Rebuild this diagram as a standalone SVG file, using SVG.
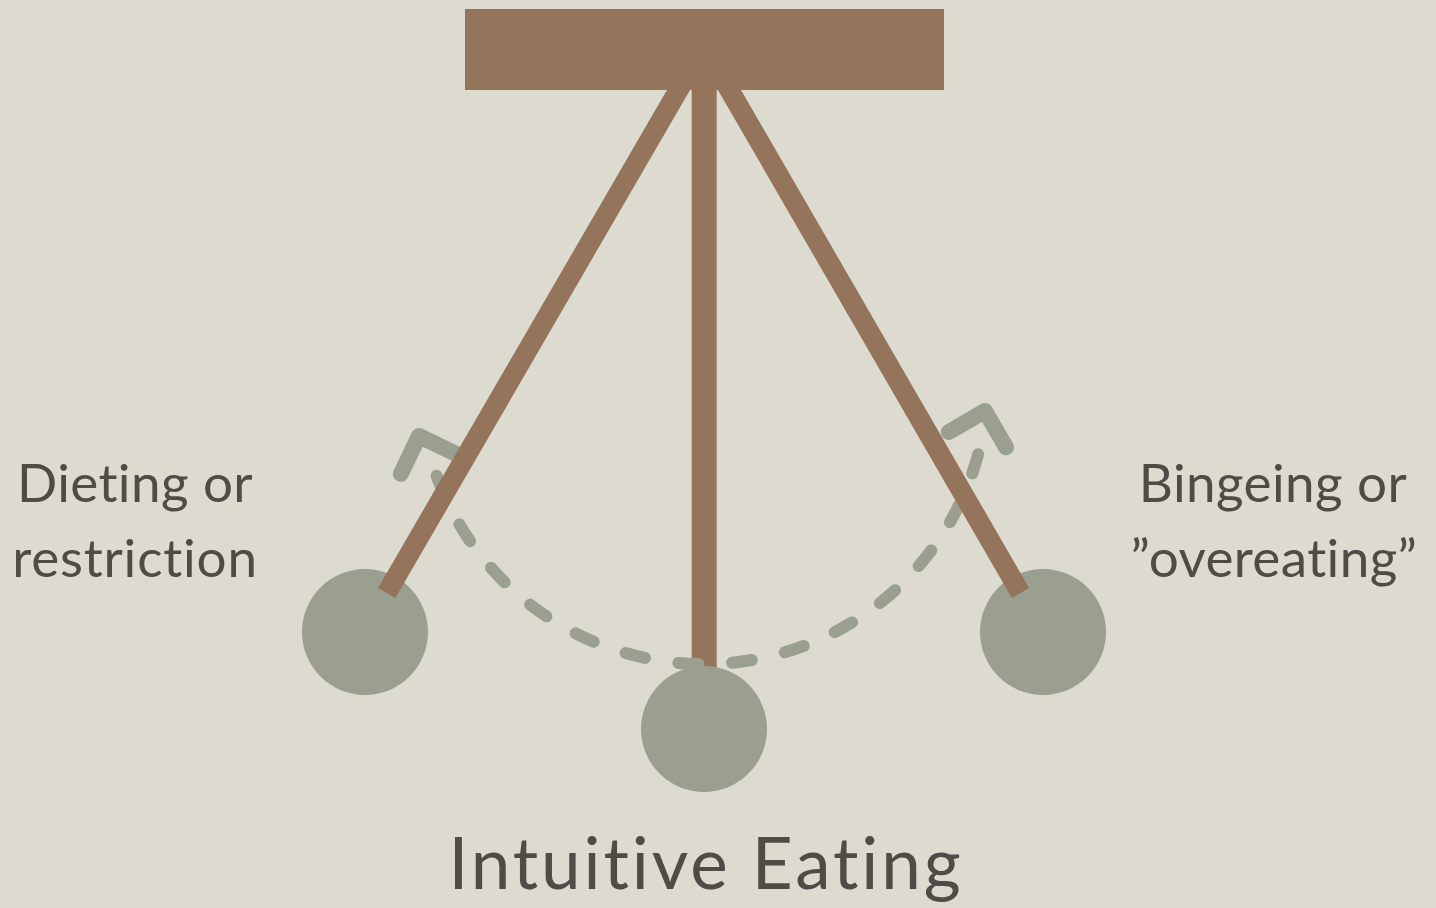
<svg xmlns="http://www.w3.org/2000/svg" width="1436" height="908" viewBox="0 0 1436 908">
  <style>
    .rod { stroke: #94745b; stroke-linecap: butt; fill: none; }
    .ball { fill: #9a9f90; }
    .arc { fill: none; stroke: #9a9f90; stroke-width: 12; stroke-linecap: round; stroke-dasharray: 20 33.8; }
    .chev { fill: none; stroke: #9a9f90; stroke-width: 16; stroke-linecap: round; stroke-linejoin: round; }
    .lbl { font-family: Lato, "Liberation Sans", sans-serif; fill: #504b46; text-anchor: middle; font-variant-ligatures: none; font-feature-settings: "liga" 0; }
    .side { font-size: 53px; letter-spacing: 0.4px; }
    .big { font-size: 71px; letter-spacing: 2.9px; }
  </style>
  <rect width="1436" height="908" fill="#dddbd0"/>

  <g id="center-rod">
    <line class="rod" x1="704.2" y1="85" x2="704.2" y2="680" stroke-width="25"/>
  </g>

  <g id="connectors">
    <path class="arc" d="M 436.6 475.7 A 284 284 0 0 0 978.5 453.0"/>
    <polyline class="chev" transform="translate(419 436) rotate(-19.3)" points="-29.7,29.7 0,0 29.7,29.7"/>
    <polyline class="chev" transform="translate(985 411) rotate(14.9)" points="-29.7,29.7 0,0 29.7,29.7"/>
  </g>

  <g id="left-ball">
    <circle class="ball" cx="365" cy="632" r="63"/>
  </g>
  <g id="right-ball">
    <circle class="ball" cx="1043" cy="632" r="63"/>
  </g>

  <g id="side-rods">
    <line class="rod" x1="681.4" y1="85" x2="386.7" y2="593" stroke-width="20"/>
    <line class="rod" x1="726.6" y1="85" x2="1020.5" y2="593" stroke-width="20"/>
  </g>

  <g id="center-ball">
    <circle class="ball" cx="704" cy="729" r="63"/>
  </g>

  <g id="bar">
    <rect x="465" y="9" width="479" height="81" fill="#94745b"/>
  </g>

  <g id="label-left">
    <text class="lbl side" x="135" y="502">Dieting or</text>
    <text class="lbl side" x="135" y="577" style="letter-spacing:0.8px">restriction</text>
  </g>
  <g id="label-right">
    <text class="lbl side" x="1273" y="502">Bingeing or</text>
    <text class="lbl side" x="1274" y="577">”overeating”</text>
  </g>
  <g id="label-bottom">
    <text class="lbl big" x="706" y="889">Intuitive Eating</text>
  </g>
</svg>
